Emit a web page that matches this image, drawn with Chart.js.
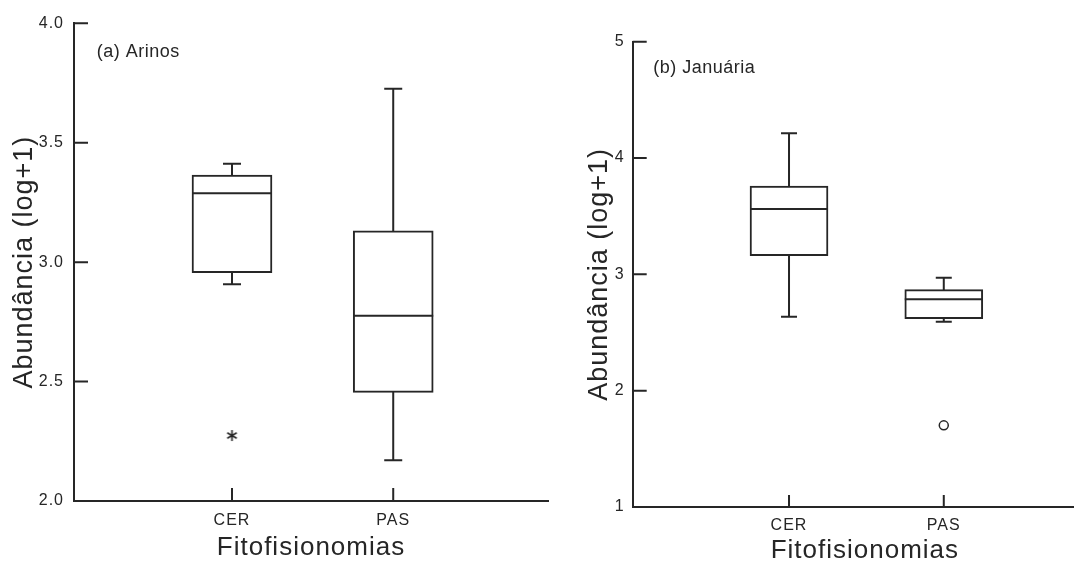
<!DOCTYPE html>
<html>
<head>
<meta charset="utf-8">
<script src="https://cdn.jsdelivr.net/npm/chart.js@4.4.0/dist/chart.umd.min.js"></script>
<style>
  html, body { margin: 0; padding: 0; background: #fff; overflow: hidden; width: 1074px; height: 562px; }
  #wrap { position: relative; width: 1074px; height: 562px; overflow: hidden; background: #fff; }
  canvas { position: absolute; top: 0; }
  #cA { left: 0; }
  #cB { left: 540px; }
</style>
</head>
<body>
<div id="wrap">
  <canvas id="cA" width="550" height="562"></canvas>
  <canvas id="cB" width="560" height="562"></canvas>
</div>
<script>
// ---------- data ----------
const categories = ['CER', 'PAS'];
const panelLabels = ['(a) Arinos', '(b) Januária'];
const yTitle = 'Abundância (log+1)';
const xTitle = 'Fitofisionomias';

// (a) Arinos
const arinosWhiskerLow  = [2.907, 2.171];
const arinosQ1          = [2.956, 2.455];
const arinosMedian      = [3.288, 2.776];
const arinosQ3          = [3.365, 3.131];
const arinosWhiskerHigh = [3.412, 3.726];
const arinosOutliers    = [[2.274], []];
const arinosYTicks      = [2.0, 2.5, 3.0, 3.5, 4.0];
const arinosYTickLabels = ['2.0', '2.5', '3.0', '3.5', '4.0'];

// (b) Januária
const januariaWhiskerLow  = [2.635, 2.592];
const januariaQ1          = [3.160, 2.618];
const januariaMedian      = [3.561, 2.785];
const januariaQ3          = [3.759, 2.868];
const januariaWhiskerHigh = [4.212, 2.971];
const januariaOutliers    = [[], [1.702]];
const januariaYTicks      = [1, 2, 3, 4, 5];
const januariaYTickLabels = ['1', '2', '3', '4', '5'];

// ---------- styling ----------
const INK = '#262626';
const FONT = '"Liberation Sans", Arial, sans-serif';

function makeAsterisk(size, color) {
  const c = document.createElement('canvas');
  c.width = size; c.height = size;
  const g = c.getContext('2d');
  g.strokeStyle = color; g.lineWidth = 1.6;
  const r = size / 2 - 1, cx = size / 2, cy = size / 2;
  g.beginPath();
  [90, 30, 150].forEach(a => {
    const rad = a * Math.PI / 180;
    g.moveTo(cx - r * Math.cos(rad), cy - r * Math.sin(rad));
    g.lineTo(cx + r * Math.cos(rad), cy + r * Math.sin(rad));
  });
  g.stroke();
  return c;
}

const decorPlugin = {
  id: 'decor',
  beforeDraw(chart) {
    chart.ctx.letterSpacing = '1px';
  },
  afterDraw(chart, args, opts) {
    const { ctx, chartArea, scales: { x, y } } = chart;
    ctx.save();
    ctx.strokeStyle = INK;
    ctx.lineWidth = 2;
    ctx.lineCap = 'butt';
    ctx.beginPath();
    y.ticks.forEach(t => {
      const py = y.getPixelForValue(t.value);
      ctx.moveTo(chartArea.left, py);
      ctx.lineTo(chartArea.left + opts.yLen, py);
    });
    x.ticks.forEach(t => {
      const px = x.getPixelForValue(t.value);
      ctx.moveTo(px, chartArea.bottom);
      ctx.lineTo(px, chartArea.bottom - opts.xLen);
    });
    ctx.stroke();
    ctx.letterSpacing = '0.5px';
    ctx.fillStyle = INK;
    ctx.font = '18px ' + FONT;
    ctx.textAlign = 'left';
    ctx.textBaseline = 'alphabetic';
    ctx.fillText(opts.label, opts.labelX, opts.labelY);
    ctx.restore();
  }
};

function makeChart(id, p) {
  const datasets = [];
  categories.forEach((c, i) => {
    datasets.push({
      type: 'line',
      data: [{ x: i + 1, y: p.lo[i] }, { x: i + 1, y: p.hi[i] }],
      borderColor: INK, borderWidth: 2, pointRadius: 0, borderCapStyle: 'butt', order: 4
    });
  });
  datasets.push({
    type: 'bar',
    data: categories.map((c, i) => ({ x: i + 1, y: [p.q1[i], p.q3[i]] })),
    backgroundColor: '#ffffff', borderColor: INK, borderWidth: 2, borderSkipped: false,
    barThickness: p.boxW, order: 3
  });
  datasets.push({
    type: 'scatter',
    data: categories.map((c, i) => ({ x: i + 1, y: p.med[i] })),
    pointStyle: 'line', pointRadius: p.boxW / 2, pointBorderWidth: 2, pointBorderColor: INK, order: 2
  });
  datasets.push({
    type: 'scatter',
    data: categories.flatMap((c, i) => [{ x: i + 1, y: p.lo[i] }, { x: i + 1, y: p.hi[i] }]),
    pointStyle: 'line', pointRadius: p.capR, pointBorderWidth: 2, pointBorderColor: INK, order: 2
  });
  datasets.push({
    type: 'scatter',
    data: categories.flatMap((c, i) => p.out[i].map(v => ({ x: i + 1, y: v }))),
    pointStyle: p.outStyle, pointRadius: p.outR, pointBorderWidth: 1.5,
    pointBorderColor: INK, pointBackgroundColor: '#ffffff', order: 1
  });

  return new Chart(document.getElementById(id), {
    type: 'bar',
    data: { datasets },
    plugins: [decorPlugin],
    options: {
      responsive: false,
      animation: false,
      devicePixelRatio: 1,
      events: [],
      layout: { autoPadding: false, padding: { left: 0, top: p.padTop, right: p.padRight, bottom: 0 } },
      plugins: {
        legend: { display: false },
        tooltip: { enabled: false },
        decor: { yLen: p.yLen, xLen: p.xLen, label: p.label, labelX: p.labelX, labelY: p.labelY }
      },
      scales: {
        x: {
          type: 'linear', min: p.xMin, max: p.xMax, offset: false,
          grid: { display: false, drawTicks: false, offset: false },
          border: { display: true, color: INK, width: 2 },
          afterBuildTicks: s => { s.ticks = categories.map((c, i) => ({ value: i + 1 })); },
          ticks: {
            autoSkip: false, maxRotation: 0, minRotation: 0,
            callback: (v, i) => categories[i],
            padding: p.xTickPad, color: INK, font: { family: FONT, size: 16 }
          },
          title: {
            display: true, text: xTitle, color: INK,
            font: { family: FONT, size: 26, lineHeight: 1 },
            padding: { top: 0, bottom: p.xTitlePad }
          },
          afterFit: s => { s.height = p.xH; }
        },
        y: {
          type: 'linear', min: p.yMin, max: p.yMax,
          grid: { display: false, drawTicks: false },
          border: { display: true, color: INK, width: 2 },
          afterBuildTicks: s => { s.ticks = p.yTicks.map(v => ({ value: v })); },
          ticks: {
            callback: (v, i) => p.yLabels[i],
            padding: p.yTickPad, color: INK, font: { family: FONT, size: 16 }
          },
          title: {
            display: true, text: yTitle, color: INK,
            font: { family: FONT, size: 27, lineHeight: 1.2 },
            padding: { top: p.yTitlePad, bottom: 0 }
          },
          afterFit: s => { s.width = p.yW; }
        }
      }
    }
  });
}

makeChart('cA', {
  lo: arinosWhiskerLow, q1: arinosQ1, med: arinosMedian, q3: arinosQ3, hi: arinosWhiskerHigh, out: arinosOutliers,
  yTicks: arinosYTicks, yLabels: arinosYTickLabels, yMin: 2, yMax: 4,
  xMin: 0.02, xMax: 2.96,
  boxW: 80, capR: 9, outStyle: makeAsterisk(13, INK), outR: 6,
  padTop: 23.3, padRight: 2, yW: 74, xH: 61,
  yTickPad: 10, xTickPad: 10, yTitlePad: 8, xTitlePad: 1.5,
  yLen: 14, xLen: 13,
  label: panelLabels[0], labelX: 96.7, labelY: 56.5
});

makeChart('cB', {
  lo: januariaWhiskerLow, q1: januariaQ1, med: januariaMedian, q3: januariaQ3, hi: januariaWhiskerHigh, out: januariaOutliers,
  yTicks: januariaYTicks, yLabels: januariaYTickLabels, yMin: 1, yMax: 5,
  xMin: -0.01, xMax: 2.99,
  boxW: 78, capR: 8, outStyle: 'circle', outR: 4.5,
  padTop: 41.7, padRight: 3, yW: 92.7, xH: 55,
  yTickPad: 8, xTickPad: 9, yTitlePad: 43, xTitlePad: -2,
  yLen: 14, xLen: 12,
  label: panelLabels[1], labelX: 113.3, labelY: 72.5
});
</script>
</body>
</html>
